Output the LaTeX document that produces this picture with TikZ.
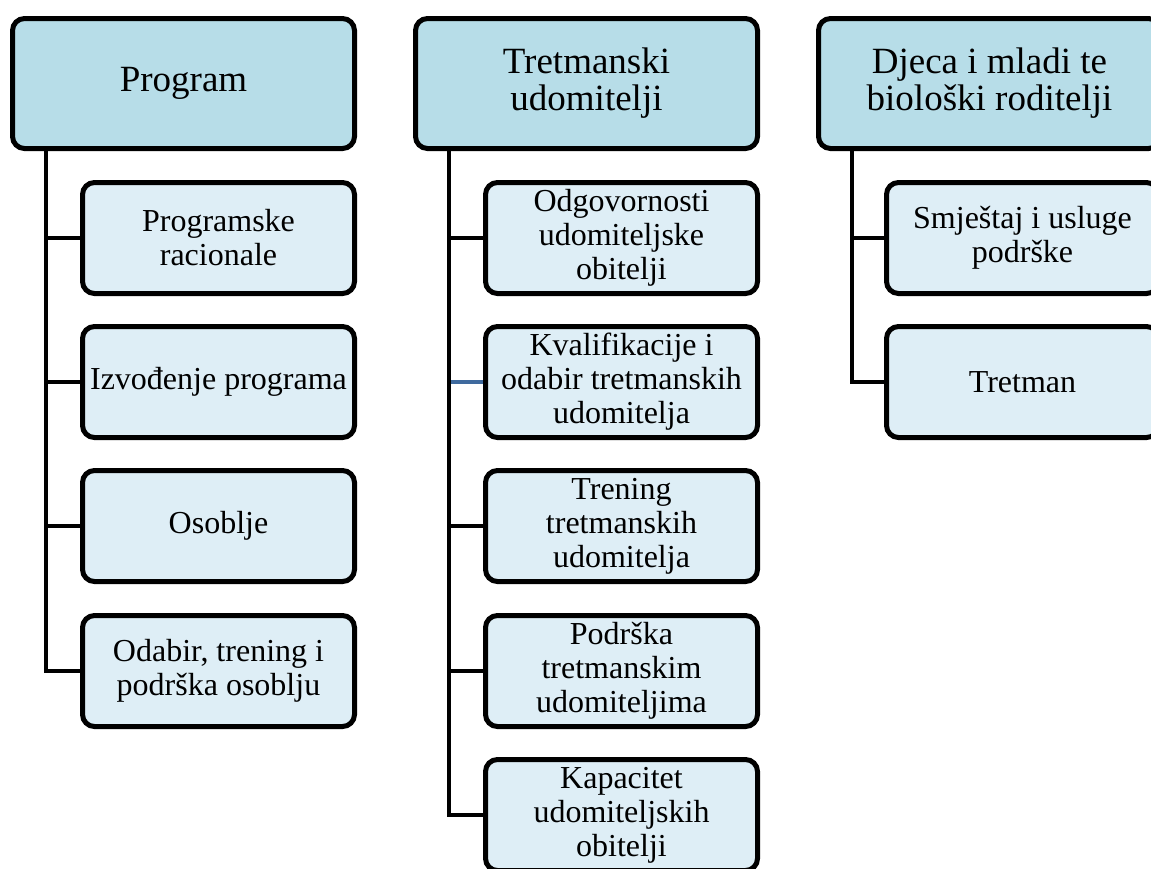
\documentclass[tikz,border=0pt]{standalone}
\usepackage{fontspec}
\setmainfont{Liberation Serif}
\definecolor{headfill}{HTML}{B7DDE8}
\definecolor{childfill}{HTML}{DEEEF6}
\definecolor{linkblue}{HTML}{3F6A9E}
\pgfdeclarelayer{bg}
\pgfsetlayers{bg,main}
\begin{document}
\begin{tikzpicture}[x=1pt,y=-1pt,
  headbox/.style={draw=black, line width=5pt, fill=headfill, rounded corners=12pt,
    minimum width=342pt, minimum height=130pt, inner sep=0pt, align=center,
    font=\fontsize{37}{37}\selectfont},
  childbox/.style={draw=black, line width=5pt, fill=childfill, rounded corners=12pt,
    minimum width=272pt, minimum height=111pt, inner sep=0pt, align=center,
    font=\fontsize{32}{34}\selectfont},
  link/.style={line width=4.5pt, draw=black},
  bluelink/.style={line width=3.5pt, draw=linkblue}]
\useasboundingbox (0,0) rectangle (1151,868);
\clip (0,0) rectangle (1151,868);

% column 1
\node[headbox] (h1) at (183.5,83.5) {\raisebox{-3pt}{Program}};
\node[childbox] (c11) at (218.5,238) {Programske\\racionale};
\node[childbox] (c12) at (218.5,382) {Izvođenje programa};
\node[childbox] (c13) at (218.5,526) {Osoblje};
\node[childbox] (c14) at (218.5,671) {Odabir, trening i\\podrška osoblju};

% column 2
\node[headbox] (h2) at (586.5,83.5) {\raisebox{-3pt}{Tretmanski}\\\raisebox{-3pt}{udomitelji}};
\node[childbox] (c21) at (621.5,238) {Odgovornosti\\udomiteljske\\obitelji};
\node[childbox] (c22) at (621.5,382) {Kvalifikacije i\\odabir tretmanskih\\udomitelja};
\node[childbox] (c23) at (621.5,526) {Trening\\tretmanskih\\udomitelja};
\node[childbox] (c24) at (621.5,671) {Podrška\\tretmanskim\\udomiteljima};
\node[childbox] (c25) at (621.5,815) {Kapacitet\\udomiteljskih\\obitelji};

% column 3
\node[headbox] (h3) at (989.5,83.5) {\raisebox{-3pt}{Djeca i mladi te}\\\raisebox{-3pt}{biološki roditelji}};
\node[childbox] (c31) at (1022.5,238) {Smještaj i usluge\\podrške};
\node[childbox] (c32) at (1022.5,382) {Tretman};

% connectors
\coordinate (t1) at ([xshift=36pt]h1.south west);
\coordinate (t2) at ([xshift=36pt]h2.south west);
\coordinate (t3) at ([xshift=36pt]h3.south west);

\begin{pgfonlayer}{bg}
  % column 1
  \draw[link] (t1) |- (c14.west);
  \foreach \c in {c11,c12,c13} \draw[link] (t1 |- \c.west) -- (\c.west);
  % column 2
  \draw[bluelink] (t2 |- c22.west) -- (c22.west);
  \draw[link] (t2) |- (c25.west);
  \foreach \c in {c21,c23,c24} \draw[link] (t2 |- \c.west) -- (\c.west);
  % column 3
  \draw[link] (t3) |- (c32.west);
  \draw[link] (t3 |- c31.west) -- (c31.west);
\end{pgfonlayer}
\end{tikzpicture}
\end{document}
